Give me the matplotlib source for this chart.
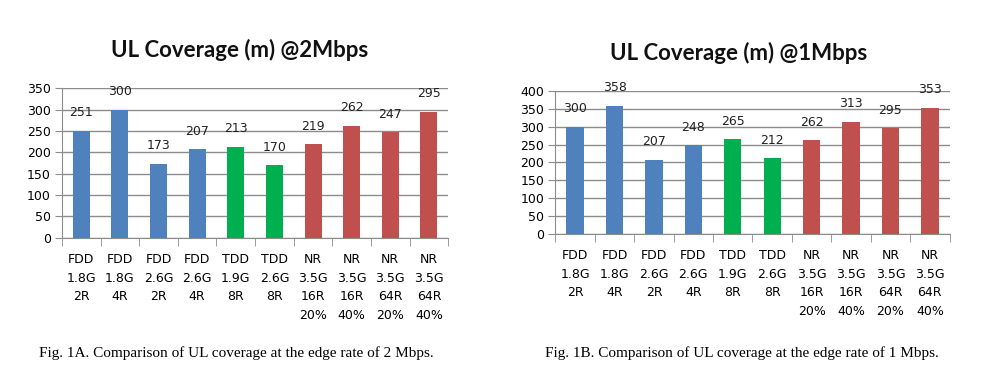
import matplotlib.pyplot as plt
import numpy as np

categories = ["FDD\n1.8G\n2R", "FDD\n1.8G\n4R", "FDD\n2.6G\n2R", "FDD\n2.6G\n4R",
              "TDD\n1.9G\n8R", "TDD\n2.6G\n8R", "NR\n3.5G\n16R\n20%", "NR\n3.5G\n16R\n40%",
              "NR\n3.5G\n64R\n20%", "NR\n3.5G\n64R\n40%"]
cov_2mbps = [251, 300, 173, 207, 213, 170, 219, 262, 247, 295]
cov_1mbps = [300, 358, 207, 248, 265, 212, 262, 313, 295, 353]
groups = ["FDD", "FDD", "FDD", "FDD", "TDD", "TDD", "NR", "NR", "NR", "NR"]
group_colors = {"FDD": "#4F81BD", "TDD": "#00B050", "NR": "#C0504D"}

plt.rcParams['font.family'] = ['DejaVu Sans']

fig = plt.figure(figsize=(9.83, 3.8), dpi=100)


def draw(rect, values, ymax, title, title_xy, caption, caption_xy):
    ax = fig.add_axes(rect)
    x = np.arange(len(values))
    colors = [group_colors[g] for g in groups]
    ax.bar(x, values, width=0.44, color=colors, zorder=3)
    for xi, v in zip(x, values):
        ax.annotate(str(v), (xi, v), xytext=(0, 18), textcoords='offset pixels',
                    ha='center', va='center', fontsize=9, color='#222222', zorder=4)
    ax.set_xlim(-0.5, len(values) - 0.5)
    ax.set_ylim(0, ymax)
    ax.set_yticks(np.arange(0, ymax + 1, 50))
    ax.yaxis.grid(True, color='#8c8c8c', linewidth=1, zorder=0)
    ax.set_xticks(x)
    ax.set_xticklabels(categories, fontsize=9, linespacing=1.55, va='top')
    ax.tick_params(axis='x', length=0, pad=11)
    ax.set_xticks(np.arange(-0.5, len(values)), minor=True)
    ax.tick_params(axis='x', which='minor', length=6, color='#8c8c8c', direction='out')
    ax.tick_params(axis='y', length=5, color='#8c8c8c', labelsize=9, pad=3)
    for s in ['top', 'right']:
        ax.spines[s].set_visible(False)
    ax.spines['left'].set_color('#8c8c8c')
    ax.spines['bottom'].set_color('#8c8c8c')
    fig.text(title_xy[0], title_xy[1], title, ha='center', va='center',
             fontsize=16, fontweight='bold', family=['Lato', 'DejaVu Sans'], color='#111111')
    fig.text(caption_xy[0], caption_xy[1], caption, ha='center', va='center',
             fontsize=11, family=['Liberation Serif'])
    return ax


draw([0.063, 0.374, 0.393, 0.394], cov_2mbps, 350, "UL Coverage (m) @2Mbps", (0.244, 0.868),
     "Fig. 1A. Comparison of UL coverage at the edge rate of 2 Mbps.", (0.240, 0.071))
draw([0.565, 0.384, 0.401, 0.377], cov_1mbps, 400, "UL Coverage (m) @1Mbps", (0.751, 0.861),
     "Fig. 1B. Comparison of UL coverage at the edge rate of 1 Mbps.", (0.755, 0.071))

fig.savefig("out.png", dpi=100)
